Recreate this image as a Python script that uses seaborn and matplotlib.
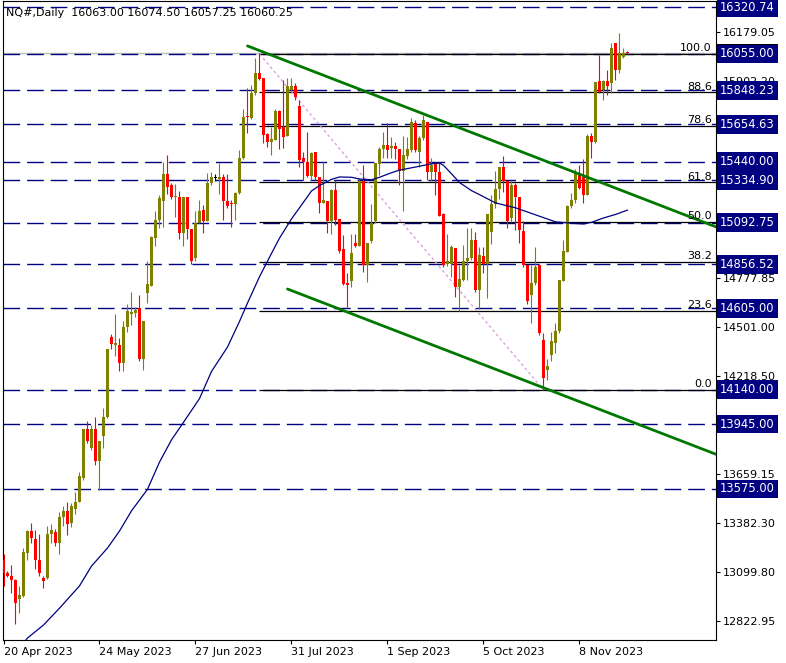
import numpy as np
import pandas as pd
import seaborn as sns
import matplotlib
matplotlib.use("Agg")
import matplotlib.pyplot as plt
import matplotlib.transforms as mtransforms

# daily candles NQ#, one per business day from 20 Apr 2023
opens = [13171, 13095, 13080, 13053, 12947, 12966, 13209, 13333, 13290, 13171,
         13066, 13066, 13319, 13331, 13266, 13414, 13450, 13383, 13460, 13502,
         13640, 13916, 13808, 13916, 13732, 13878, 13984, 14440, 14398, 14396,
         14292, 14497, 14573, 14581, 14605, 14317, 14695, 14733, 15008, 15109,
         15219, 15371, 15309, 15238, 15238, 15037, 15238, 15056, 14894, 15094,
         15166, 15105, 15322, 15350, 15343, 15352, 15217, 15204, 15198, 15261,
         15460, 15702, 15689, 15831, 15949, 15916, 15599, 15556, 15565, 15730,
         15641, 15588, 15850, 15873, 15759, 15460, 15441, 15360, 15498, 15356,
         15204, 15219, 15100, 15280, 15113, 14944, 14748, 14758, 14980, 14961,
         15333, 14850, 14991, 15100, 15428, 15512, 15536, 15517, 15531, 15512,
         15388, 15474, 15508, 15660, 15498, 15574, 15670, 15385, 15432, 15385,
         15143, 14858, 14858, 14951, 14729, 14767, 14877, 14890, 14995, 14710,
         14904, 14858, 15042, 15200, 15284, 15413, 15328, 15118, 15308, 15242,
         15048, 14853, 14682, 14748, 14852, 14425, 14254, 14340, 14406, 14473,
         14761, 14928, 15189, 15220, 15375, 15356, 15252, 15588, 15556, 15903,
         15850, 15903, 15892, 16116, 15964, 16036, 16063]
highs = [13205, 13105, 13143, 13060, 13019, 13236, 13338, 13380, 13342, 13319,
         13076, 13365, 13374, 13346, 13441, 13475, 13498, 13494, 13560, 13673,
         13916, 13965, 13940, 13984, 13849, 14036, 14372, 14459, 14573, 14435,
         14533, 14628, 14700, 14610, 14681, 14530, 14872, 15018, 15157, 15252,
         15442, 15480, 15318, 15314, 15276, 15238, 15238, 15056, 15162, 15223,
         15195, 15375, 15384, 15369, 15432, 15371, 15371, 15223, 15270, 15508,
         15742, 15860, 15878, 16030, 16059, 15916, 15603, 15641, 15740, 15736,
         15907, 15916, 15916, 15892, 15793, 15498, 15612, 15498, 15498, 15356,
         15441, 15219, 15284, 15337, 15113, 15024, 14809, 15029, 15029, 15346,
         15422, 14976, 15200, 15432, 15523, 15610, 15660, 15584, 15556, 15512,
         15588, 15584, 15689, 15679, 15588, 15708, 15670, 15460, 15442, 15442,
         15150, 15029, 14966, 14951, 14852, 14966, 15062, 15062, 15042, 14957,
         14957, 15143, 15252, 15390, 15413, 15474, 15328, 15333, 15318, 15242,
         15100, 14853, 14852, 14957, 14852, 14463, 14315, 14467, 14520, 14767,
         14995, 15195, 15261, 15400, 15423, 15455, 15600, 15603, 15898, 16050,
         15905, 15964, 16116, 16116, 16173, 16088, 16074.5]
lows = [13023, 13070, 12981, 12806, 12867, 12958, 13171, 13266, 13118, 13076,
        13010, 13061, 13266, 13251, 13205, 13365, 13315, 13357, 13433, 13498,
        13627, 13836, 13798, 13712, 13570, 13808, 13978, 14372, 14334, 14250,
        14250, 14472, 14510, 14558, 14307, 14254, 14634, 14733, 14961, 15062,
        15067, 15257, 15229, 15128, 14999, 14961, 14999, 14858, 14877, 15094,
        15033, 15105, 15309, 15333, 15255, 15109, 15176, 15067, 15109, 15257,
        15455, 15603, 15683, 15822, 15907, 15546, 15523, 15479, 15565, 15512,
        15517, 15588, 15840, 15793, 15413, 15337, 15356, 15337, 15337, 15147,
        15204, 15037, 15029, 15080, 14923, 14739, 14615, 14729, 14957, 14961,
        14814, 14755, 14976, 15090, 15366, 15460, 15460, 15460, 15455, 15308,
        15157, 15455, 15498, 15498, 15409, 15565, 15337, 15333, 15252, 15132,
        14843, 14847, 14786, 14668, 14587, 14763, 14767, 14880, 14700, 14600,
        14805, 14663, 14972, 15176, 15227, 15270, 15062, 15099, 15052, 14980,
        14843, 14630, 14520, 14738, 14454, 14140, 14197, 14302, 14349, 14463,
        14761, 14928, 15175, 15205, 15284, 15205, 15252, 15460, 15550, 15835,
        15793, 15822, 15835, 15907, 15945, 16030, 16057.25]
closes = [13095, 13080, 13053, 12924, 12971, 13213, 13333, 13295, 13171, 13095,
          13048, 13319, 13342, 13266, 13414, 13450, 13374, 13475, 13502, 13650,
          13916, 13846, 13916, 13737, 13849, 13984, 14372, 14402, 14409, 14292,
          14501, 14590, 14586, 14596, 14315, 14530, 14744, 15014, 15109, 15233,
          15371, 15299, 15242, 15246, 15037, 15238, 15056, 14877, 15094, 15162,
          15105, 15322, 15352, 15350, 15352, 15214, 15191, 15197, 15261, 15460,
          15698, 15694, 15835, 15949, 15911, 15594, 15556, 15569, 15730, 15626,
          15584, 15873, 15873, 15812, 15451, 15441, 15360, 15493, 15356, 15204,
          15223, 15100, 15280, 15109, 14934, 14744, 14739, 14923, 14961, 15333,
          14850, 14976, 15091, 15432, 15514, 15536, 15508, 15531, 15512, 15388,
          15480, 15512, 15670, 15508, 15574, 15679, 15385, 15423, 15385, 15132,
          14852, 14877, 14957, 14729, 14771, 14877, 14890, 14995, 14710, 14910,
          14858, 15143, 15200, 15284, 15413, 15328, 15100, 15308, 15242, 15052,
          14853, 14644, 14748, 14843, 14463, 14207, 14277, 14421, 14476, 14767,
          14932, 15189, 15223, 15375, 15290, 15252, 15588, 15556, 15898, 15840,
          15903, 15873, 16088, 15964, 16063, 16063, 16060.25]

# moving average
ma_bar = [3, 6, 10, 14, 19, 22, 26, 29, 32, 36, 39, 42, 45, 49, 52, 56, 59, 61, 64, 67,
          69, 72, 74, 77, 79, 82, 84, 87, 89, 92, 94, 97, 99, 102, 104, 107, 109, 110,
          112, 114, 117, 119, 123, 128, 133, 138, 142, 145, 147, 150, 153, 156]
ma_val = [12640, 12725, 12799, 12895, 13022, 13135, 13238, 13335, 13450, 13573, 13728,
          13855, 13955, 14090, 14245, 14384, 14530, 14635, 14785, 14918, 15005, 15115,
          15178, 15274, 15305, 15340, 15354, 15352, 15342, 15338, 15352, 15378, 15393,
          15406, 15415, 15429, 15433, 15420, 15372, 15322, 15276, 15253, 15206, 15178,
          15138, 15098, 15090, 15086, 15095, 15120, 15140, 15165]

# horizontal levels with price boxes
levels = [16320.74, 16055.00, 15848.23, 15654.63, 15440.00, 15334.90, 15092.75,
          14856.52, 14605.00, 14140.00, 13945.00, 13575.00]
axis_ticks = [12822.95, 13099.80, 13382.30, 13659.15, 13941.65, 14218.50, 14501.00,
              14777.85, 15060.35, 15337.20, 15619.70, 15902.20, 16179.05]

# fibo retracement anchors
fib_start, fib_high = 64, 16055.0
fib_end, fib_low = 135, 14140.0
fib_ratios = [0.0, 23.6, 38.2, 50.0, 61.8, 78.6, 88.6, 100.0]

# channel trend lines (two anchors each, drawn as rays)
upper_bars, upper_px = [61, 145], [16101, 15361]
lower_bars, lower_px = [71, 135], [14715, 14152]

bid = 16060.25
title = "NQ#,Daily  16063.00 16074.50 16057.25 16060.25"

sns.set_style("white")
plt.rcParams['font.family'] = ['DejaVu Sans']

fig = plt.figure(figsize=(7.86, 6.63), dpi=100)
ax = fig.add_axes([3 / 786, 23 / 663, 713 / 786, 639 / 663])
x0, x1 = -0.125, 178.125
ax.set_xlim(x0, x1)
ax.set_ylim(12713.6, 16357.2)

navy = '#000080'
olive = '#808000'
red = '#FF0000'
green = '#007800'

# bid line and level lines
ax.axhline(bid, color='#C0C0C0', lw=1, zorder=0.8)
for v in levels:
    ax.axhline(v, color=navy, lw=1.0, dashes=(12, 5), zorder=1)

# fibo
for r in fib_ratios:
    p = fib_low + r / 100 * (fib_high - fib_low)
    ax.hlines(p, fib_start, x1, color='black', lw=0.9, zorder=1.2)
    ax.annotate(f"{r:.1f}", xy=(0.994, p),
                xycoords=mtransforms.blended_transform_factory(ax.transAxes, ax.transData),
                xytext=(0, 0.5), textcoords='offset points', ha='right', va='bottom',
                fontsize=8, color='black', zorder=6)
sns.lineplot(x=[fib_start, fib_end], y=[fib_high, fib_low], ax=ax, color='#DDA0DD',
             lw=1, dashes=False, zorder=1.5).lines[-1].set_dashes((2, 2))

# candles
o = np.array(opens, float)
h = np.array(highs, float)
l = np.array(lows, float)
c = np.array(closes, float)
idx = np.arange(len(o))
cols = np.where(c > o, olive, np.where(c < o, red, '#000000'))
ax.vlines(idx, l, h, colors=cols, lw=0.8, zorder=3)
body_lo = np.minimum(o, c)
body_h = np.maximum(np.abs(c - o), 5)
ax.bar(idx, body_h, bottom=body_lo, width=0.72, color=cols, linewidth=0, zorder=4)

# moving average
sns.lineplot(x=ma_bar, y=ma_val, ax=ax, color=navy, lw=0.9, zorder=5)


# trend channel rays
def ray(bars, px):
    slope = (px[1] - px[0]) / (bars[1] - bars[0])
    return [bars[0], x1], [px[0], px[0] + slope * (x1 - bars[0])]


for bars, px in [(upper_bars, upper_px), (lower_bars, lower_px)]:
    xs, ys = ray(bars, px)
    sns.lineplot(x=xs, y=ys, ax=ax, color=green, lw=2.0, zorder=5)

# axes styling
for s in ax.spines.values():
    s.set_color('black')
    s.set_linewidth(0.8)
ax.yaxis.tick_right()
ax.set_yticks(axis_ticks)
ax.set_yticklabels([f"{v:.2f}" for v in axis_ticks])
ax.tick_params(axis='y', length=3, width=0.8, pad=2, labelsize=8, colors='black',
               direction='out', right=True, left=False)

dates = pd.bdate_range("2023-04-20", periods=len(opens))
xt = list(range(0, len(opens), 24))
ax.set_xticks(xt)
ax.set_xticklabels([f"{dates[i].day} {dates[i]:%b %Y}" for i in xt])
for lab in ax.get_xticklabels():
    lab.set_ha('left')
ax.tick_params(axis='x', length=3, width=0.8, pad=2, labelsize=8, colors='black',
               direction='out', bottom=True)
ax.set_xlabel('')
ax.set_ylabel('')

# price boxes on the right axis
bt = mtransforms.blended_transform_factory(ax.transAxes, ax.transData)
ax.text(1.006, bid, f"{bid:.2f}", transform=bt, ha='left', va='center', fontsize=8.3,
        color='white', clip_on=False, zorder=6,
        bbox=dict(boxstyle='square,pad=0.25', fc='black', ec='none'))
for v in levels:
    ax.text(1.006, v, f"{v:.2f}", transform=bt, ha='left', va='center', fontsize=8.3,
            color='white', clip_on=False, zorder=7,
            bbox=dict(boxstyle='square,pad=0.25', fc=navy, ec='none'))

fig.text(6 / 786, 1 - 13 / 663, title, fontsize=8, va='center', ha='left', color='black')

fig.savefig("out.png", dpi=100, facecolor='white')
